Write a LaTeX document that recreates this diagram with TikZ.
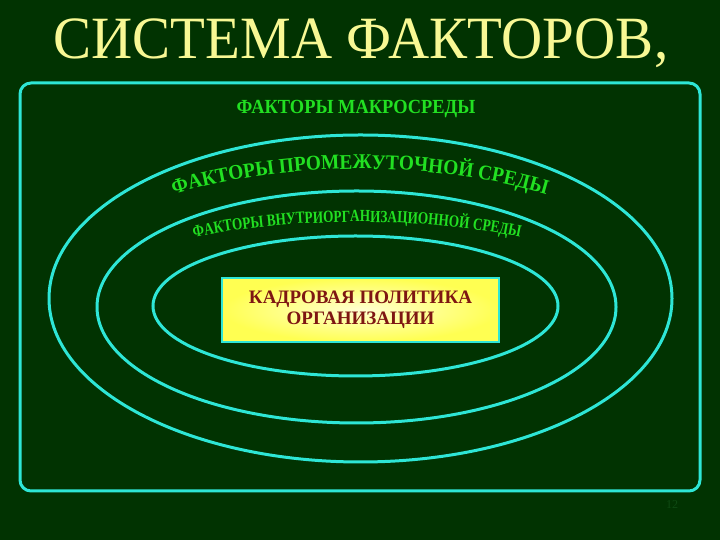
\documentclass[tikz,border=0pt]{standalone}
\usepackage{fontspec}
\setmainfont{Liberation Serif}
\newfontfamily\titlefont[FakeStretch=0.95]{Liberation Serif}
\newfontfamily\grfont[FakeStretch=0.92]{Liberation Serif}
\newfontfamily\grsmallfont[FakeStretch=0.78]{Liberation Serif}
\usetikzlibrary{decorations.text}
\definecolor{bg}{HTML}{013301}
\definecolor{cy}{HTML}{2EE6D6}
\definecolor{gr}{HTML}{22E022}
\definecolor{ttl}{HTML}{F8F894}
\definecolor{kred}{HTML}{7E1612}
\definecolor{pagenum}{HTML}{0E4A12}
\tikzset{
  cyline/.style={draw=cy, line width=3pt},
  titletext/.style={text=ttl, font=\titlefont\fontsize{60}{60}\selectfont, inner sep=0pt, anchor=base},
  grtext/.style={text=gr, font=\grfont\bfseries\fontsize{20}{20}\selectfont, inner sep=0pt, anchor=base},
  kbox/.style={draw=cy, line width=2pt, inner color=yellow!18, outer color=yellow!68,
    minimum width=277pt, minimum height=64pt, align=center, text=kred,
    font=\bfseries\fontsize{19}{21}\selectfont},
}
\begin{document}
\begin{tikzpicture}[x=1pt,y=1pt]
\useasboundingbox (0,0) rectangle (720,540);
\fill[bg] (0,0) rectangle (720,540);
% title
\node[titletext] (title) at (361,481) {СИСТЕМА ФАКТОРОВ,};
% frame
\draw[cyline, rounded corners=11pt] (20,49) rectangle (700,457);
% ellipses
\draw[cyline] (360.5,241.5) ellipse [x radius=311.5, y radius=163.5];
\draw[cyline] (356.5,233) ellipse [x radius=259.5, y radius=116];
\draw[cyline] (355.5,234) ellipse [x radius=202.5, y radius=70];
% labels
\node[grtext] (macro) at (356,426) {ФАКТОРЫ МАКРОСРЕДЫ};
\path[decorate, decoration={text along path, text align=center, text color=gr,
  text={|\grfont\bfseries\fontsize{21}{21}\selectfont|ФАКТОРЫ ПРОМЕЖУТОЧНОЙ СРЕДЫ}}]
  (360,235) ++(145:320 and 136) arc[start angle=145, end angle=35, x radius=320, y radius=136];
\path[decorate, decoration={text along path, text align=center, text color=gr,
  text={|\grsmallfont\bfseries\fontsize{17}{17}\selectfont|ФАКТОРЫ ВНУТРИОРГАНИЗАЦИОННОЙ СРЕДЫ}}]
  (357,235) ++(150:280 and 83) arc[start angle=150, end angle=30, x radius=280, y radius=83];
% central box
\node[kbox] (kp) at (360.5,230) {КАДРОВАЯ ПОЛИТИКА\\ОРГАНИЗАЦИИ};
% page number
\node[text=pagenum, font=\fontsize{12}{12}\selectfont, inner sep=0pt] (pg) at (672,35) {12};
\end{tikzpicture}
\end{document}
